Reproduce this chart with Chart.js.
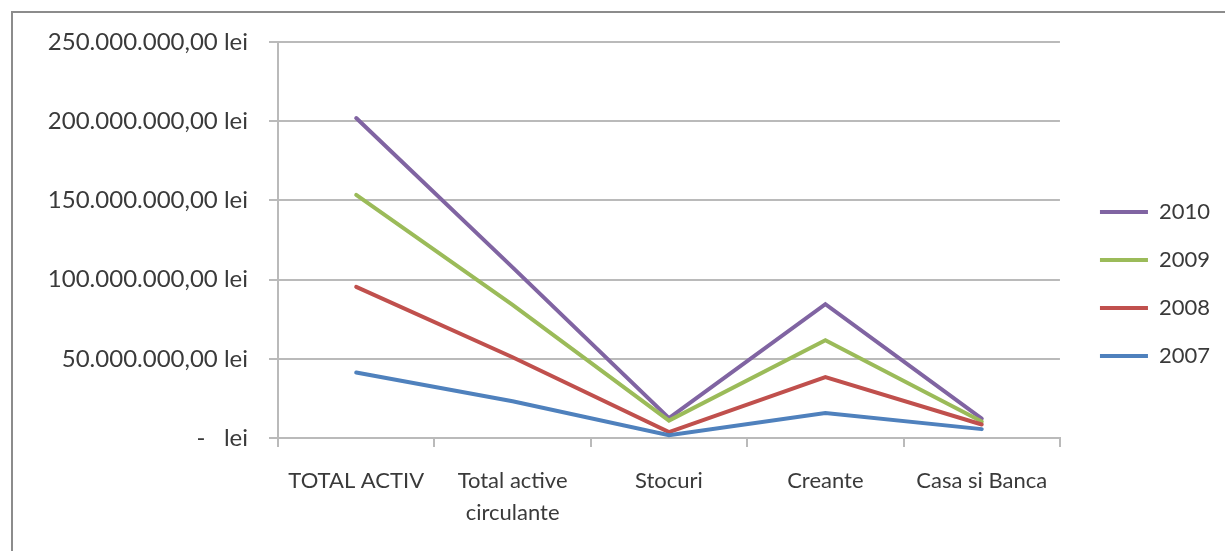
<!DOCTYPE html>
<html>
<head>
<meta charset="utf-8">
<script src="https://cdn.jsdelivr.net/npm/chart.js@4.4.1/dist/chart.umd.min.js"></script>
<style>
  html, body { margin: 0; padding: 0; background: #ffffff; overflow: hidden; }
  #frame {
    position: absolute; left: 11px; top: 11px; width: 1214px; height: 540px;
    border-top: 2px solid #8c8c8c; border-left: 2px solid #8c8c8c;
  }
  #wrap { position: absolute; left: 0; top: 0; width: 1225px; height: 551px; }
</style>
</head>
<body>
<div id="frame"></div>
<div id="wrap"><canvas id="chart"></canvas></div>
<script>
// Asset structure per year (lei)
const categories = ['TOTAL ACTIV', ['Total active', 'circulante'], 'Stocuri', 'Creante', 'Casa si Banca'];
const years = ['2007', '2008', '2009', '2010'];
const values2007 = [41300000, 23200000, 1800000, 15800000, 5600000];
const values2008 = [95400000, 51000000, 3700000, 38500000, 8500000];
const values2009 = [153500000, 84000000, 11000000, 61700000, 10400000];
const values2010 = [202000000, 107700000, 12500000, 84500000, 12200000];
const yTickValues = [0, 50000000, 100000000, 150000000, 200000000, 250000000];
const yTickLabels = ['-   lei', '50.000.000,00 lei', '100.000.000,00 lei', '150.000.000,00 lei', '200.000.000,00 lei', '250.000.000,00 lei'];
const seriesColors = ['#4F81BD', '#C0504D', '#9BBB59', '#8064A2'];

const seriesValues = [values2007, values2008, values2009, values2010];
const gridColor = '#bababa';
const textColor = '#3a3a3a';

const datasets = years.map((y, i) => ({
  label: y,
  data: seriesValues[i],
  borderColor: seriesColors[i],
  backgroundColor: seriesColors[i],
  borderWidth: 4,
  borderCapStyle: 'round',
  borderJoinStyle: 'miter',
  pointRadius: 0,
  pointHoverRadius: 0,
  tension: 0,
  fill: false
}));

new Chart(document.getElementById('chart'), {
  type: 'line',
  data: { labels: categories, datasets },
  options: {
    responsive: true,
    maintainAspectRatio: false,
    animation: false,
    events: [],
    layout: { padding: { top: 42, bottom: 25, left: 0, right: 5 } },
    plugins: {
      tooltip: { enabled: false },
      legend: {
        position: 'right',
        reverse: true,
        labels: {
          usePointStyle: true,
          pointStyle: 'line',
          pointStyleWidth: 48,
          padding: 26,
          color: textColor,
          font: { family: 'Lato', size: 22 }
        }
      }
    },
    scales: {
      x: {
        offset: true,
        grid: {
          offset: true,
          drawOnChartArea: false,
          drawTicks: true,
          tickLength: 9,
          color: gridColor,
          lineWidth: 2
        },
        border: { display: true, color: gridColor, width: 2 },
        ticks: {
          color: textColor,
          padding: 18,
          maxRotation: 0,
          autoSkip: false,
          font: { family: 'Lato', size: 22, lineHeight: 1.4545 }
        },
        afterFit: (scale) => { scale.height = 88; }
      },
      y: {
        min: 0,
        max: 250000000,
        afterBuildTicks: (scale) => { scale.ticks = yTickValues.map(v => ({ value: v })); },
        grid: { color: gridColor, lineWidth: 2, tickLength: 9, drawTicks: true },
        border: { display: true, color: gridColor, width: 2 },
        ticks: {
          color: textColor,
          padding: 21,
          font: { family: 'Lato', size: 24 },
          callback: (value) => {
            const idx = yTickValues.indexOf(value);
            return idx >= 0 ? yTickLabels[idx] : '';
          }
        },
        afterFit: (scale) => { scale.width = 278; }
      },
      yR: {
        position: 'right',
        display: true,
        grid: { display: false, drawTicks: false },
        border: { display: false },
        ticks: { display: false },
        afterFit: (scale) => { scale.width = 14; }
      }
    }
  }
});
</script>
</body>
</html>
